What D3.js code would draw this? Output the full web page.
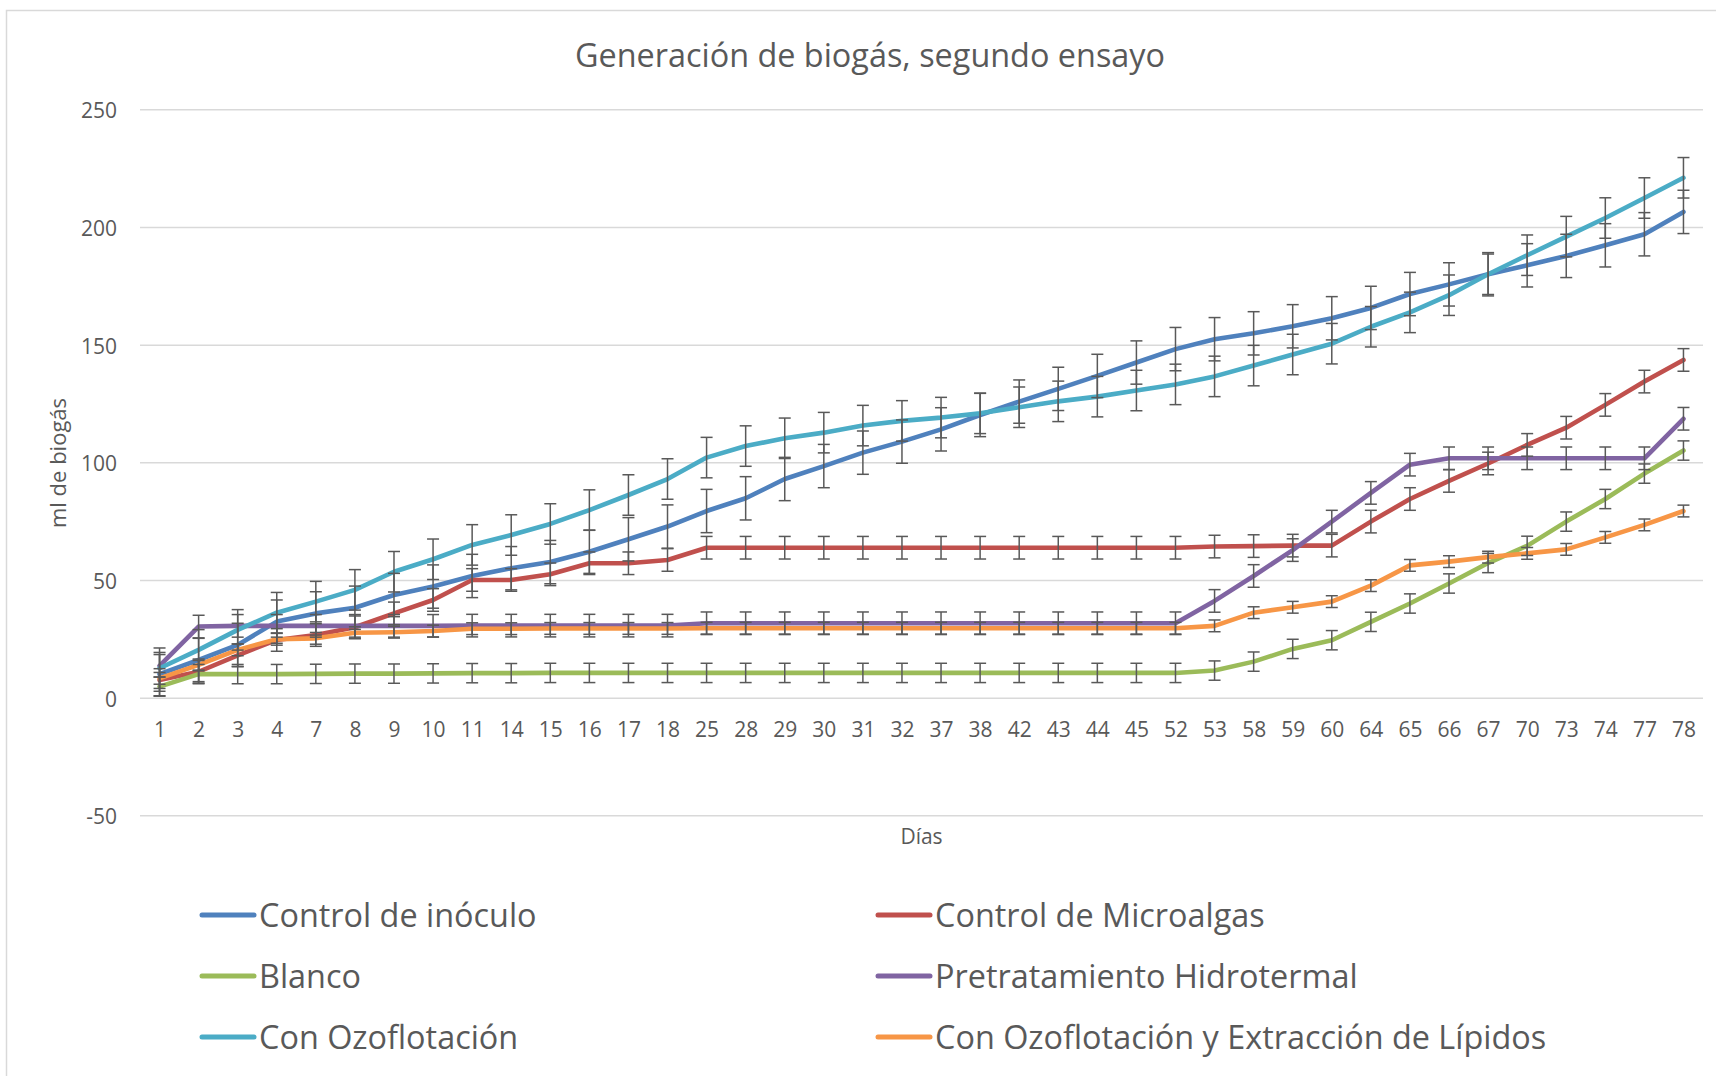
<!DOCTYPE html>
<html>
<head>
<meta charset="utf-8">
<script src="https://cdn.jsdelivr.net/npm/d3@7"></script>
<style>
  body { margin: 0; background: #fff; }
  svg text { font-family: "Open Sans", "Noto Sans", sans-serif; fill: #595959; }
</style>
</head>
<body>
<svg id="chart"></svg>
<script>
// Days of measurement (category axis)
const days = [1, 2, 3, 4, 7, 8, 9, 10, 11, 14, 15, 16, 17, 18, 25, 28, 29, 30, 31, 32,
    37, 38, 42, 43, 44, 45, 52, 53, 58, 59, 60, 64, 65, 66, 67, 70, 73, 74, 77, 78];

// Cumulative biogas (ml)
const controlInoculo = [10, 16, 22.4, 32.3, 35.8, 38.2, 43.6, 47.2, 51.7, 55, 57.6, 62, 67.3, 72.7, 79.3, 84.7, 92.9, 98.4, 104.1, 108.8,
    114, 120.1, 125.8, 131.2, 136.7, 142.4, 148.1, 152.3, 154.8, 157.8, 161.2, 165.6, 171.5, 175.6, 179.9, 183.7, 187.7, 192.2, 196.9, 206.4];
const controlMicroalgas = [7.5, 11, 18, 24.5, 26.6, 29.9, 35.8, 41.5, 50, 50, 52.4, 57.1, 57.1, 58.5, 63.7, 63.7, 63.7, 63.7, 63.7, 63.7,
    63.7, 63.7, 63.7, 63.7, 63.7, 63.7, 63.7, 64.2, 64.4, 64.6, 64.6, 74.8, 84.4, 92.1, 99.5, 107.4, 114.7, 124.4, 134.3, 143.5];
const blanco = [4.7, 10, 10, 10, 10.1, 10.2, 10.2, 10.3, 10.4, 10.4, 10.5, 10.5, 10.5, 10.5, 10.5, 10.5, 10.5, 10.5, 10.5, 10.5,
    10.5, 10.5, 10.5, 10.5, 10.5, 10.5, 10.5, 11.5, 15.3, 20.7, 24.4, 32.2, 40, 48.5, 57.2, 64.5, 74.8, 84.4, 95.2, 105];
const hidrotermal = [13.5, 30.2, 30.5, 30.5, 30.5, 30.5, 30.5, 30.5, 30.6, 30.6, 30.6, 30.6, 30.6, 30.6, 31.6, 31.6, 31.6, 31.6, 31.6, 31.6,
    31.6, 31.6, 31.6, 31.6, 31.6, 31.6, 31.6, 41.1, 51.7, 62.7, 74.8, 87, 99, 101.7, 101.7, 101.7, 101.7, 101.7, 101.7, 118.5];
const ozoflotacion = [12.5, 20.3, 28.8, 36.1, 40.8, 45.8, 53.5, 58.8, 64.9, 69.1, 73.8, 79.7, 86.1, 92.9, 102, 106.9, 110.2, 112.6, 115.6, 117.6,
    119, 120.8, 123.4, 125.9, 127.9, 130.5, 133.1, 136.5, 141.1, 145.8, 150.4, 157.6, 163.7, 171, 179.9, 188, 195.9, 203.8, 212.3, 220.9];
const ozoLipidos = [8.2, 13.9, 20.3, 24.8, 25.2, 27.6, 27.8, 28.3, 29.3, 29.3, 29.4, 29.4, 29.4, 29.4, 29.5, 29.5, 29.5, 29.5, 29.5, 29.5,
    29.5, 29.5, 29.5, 29.5, 29.5, 29.5, 29.5, 30.5, 36.1, 38.4, 40.8, 47.6, 56.2, 57.8, 59.7, 61.3, 63, 68.1, 73.4, 79.3];

// Error bar half-widths (ml), one per series
const errors = [9.2, 4.8, 4.1, 4.8, 8.6, 2.5];

const seriesNames = ["Control de inóculo", "Control de Microalgas", "Blanco",
    "Pretratamiento Hidrotermal", "Con Ozoflotación", "Con Ozoflotación y Extracción de Lípidos"];
const seriesValues = [controlInoculo, controlMicroalgas, blanco, hidrotermal, ozoflotacion, ozoLipidos];
const colors = ["#4F81BD", "#C0504D", "#9BBB59", "#8064A2", "#4BACC6", "#F79646"];

const yTicks = [-50, 0, 50, 100, 150, 200, 250];

const width = 1716;
const height = 1076;
const plot = { left: 140, right: 1703, top: 109.3, bottom: 815.3 };

const svg = d3.select("#chart")
    .attr("width", width)
    .attr("height", height);

// Chart area border
svg.append("rect")
    .attr("x", 6.5)
    .attr("y", 10.5)
    .attr("width", width)
    .attr("height", height)
    .attr("fill", "none")
    .attr("stroke", "#d9d9d9")
    .attr("stroke-width", 1.5);

const x = d3.scalePoint()
    .domain(days)
    .range([plot.left, plot.right])
    .padding(0.5);

const y = d3.scaleLinear()
    .domain([-50, 250])
    .range([plot.bottom, plot.top]);

// Y axis with gridlines (plain hyphen for negatives, like Excel)
const yAxis = svg.append("g")
    .attr("transform", `translate(${plot.left}, 0)`)
    .call(d3.axisLeft(y)
        .tickValues(yTicks)
        .tickFormat(d => String(d))
        .tickSize(-(plot.right - plot.left))
        .tickPadding(23));
yAxis.select(".domain").remove();
yAxis.selectAll(".tick line")
    .attr("stroke", "#d9d9d9")
    .attr("stroke-width", 1.5);
yAxis.selectAll(".tick text")
    .attr("font-size", 21)
    .attr("dy", "0.4em");

// X axis (category labels at y = 0)
const xAxis = svg.append("g")
    .attr("transform", `translate(0, ${y(0)})`)
    .call(d3.axisBottom(x).tickSize(0).tickPadding(24));
xAxis.select(".domain").remove();
xAxis.selectAll(".tick text")
    .attr("font-size", 21);

// Lines
const line = d3.line()
    .x((d, i) => x(days[i]))
    .y(d => y(d));

seriesValues.forEach((vals, s) => {
    svg.append("path")
        .datum(vals)
        .attr("fill", "none")
        .attr("stroke", colors[s])
        .attr("stroke-width", 4.6)
        .attr("stroke-linejoin", "round")
        .attr("stroke-linecap", "round")
        .attr("d", line);
});

// Error bars
const cap = 6;
seriesValues.forEach((vals, s) => {
    const g = svg.append("g")
        .attr("stroke", "#595959")
        .attr("stroke-width", 1.5);
    const bars = g.selectAll("g")
        .data(vals)
        .enter()
        .append("g");
    bars.append("line")
        .attr("x1", (d, i) => x(days[i]))
        .attr("x2", (d, i) => x(days[i]))
        .attr("y1", d => y(d - errors[s]))
        .attr("y2", d => y(d + errors[s]));
    bars.append("line")
        .attr("x1", (d, i) => x(days[i]) - cap)
        .attr("x2", (d, i) => x(days[i]) + cap)
        .attr("y1", d => y(d + errors[s]))
        .attr("y2", d => y(d + errors[s]));
    bars.append("line")
        .attr("x1", (d, i) => x(days[i]) - cap)
        .attr("x2", (d, i) => x(days[i]) + cap)
        .attr("y1", d => y(d - errors[s]))
        .attr("y2", d => y(d - errors[s]));
});

// Title
svg.append("text")
    .attr("x", 870)
    .attr("y", 67)
    .attr("text-anchor", "middle")
    .attr("font-size", 32.4)
    .text("Generación de biogás, segundo ensayo");

// Axis titles
svg.append("text")
    .attr("transform", "translate(66, 463) rotate(-90)")
    .attr("text-anchor", "middle")
    .attr("font-size", 22)
    .text("ml de biogás");

svg.append("text")
    .attr("x", (plot.left + plot.right) / 2)
    .attr("y", 844)
    .attr("text-anchor", "middle")
    .attr("font-size", 21)
    .text("Días");

// Legend: two columns, three rows
const legend = svg.selectAll(".legend")
    .data(seriesNames)
    .enter()
    .append("g")
    .attr("class", "legend")
    .attr("transform", (d, i) => `translate(${i % 2 === 0 ? 200 : 876}, ${915 + Math.floor(i / 2) * 61})`);

legend.append("line")
    .attr("x1", 2)
    .attr("x2", 54)
    .attr("stroke", (d, i) => colors[i])
    .attr("stroke-width", 5)
    .attr("stroke-linecap", "round");

legend.append("text")
    .attr("x", 59)
    .attr("y", 12)
    .attr("font-size", 32.4)
    .text(d => d);
</script>
</body>
</html>
